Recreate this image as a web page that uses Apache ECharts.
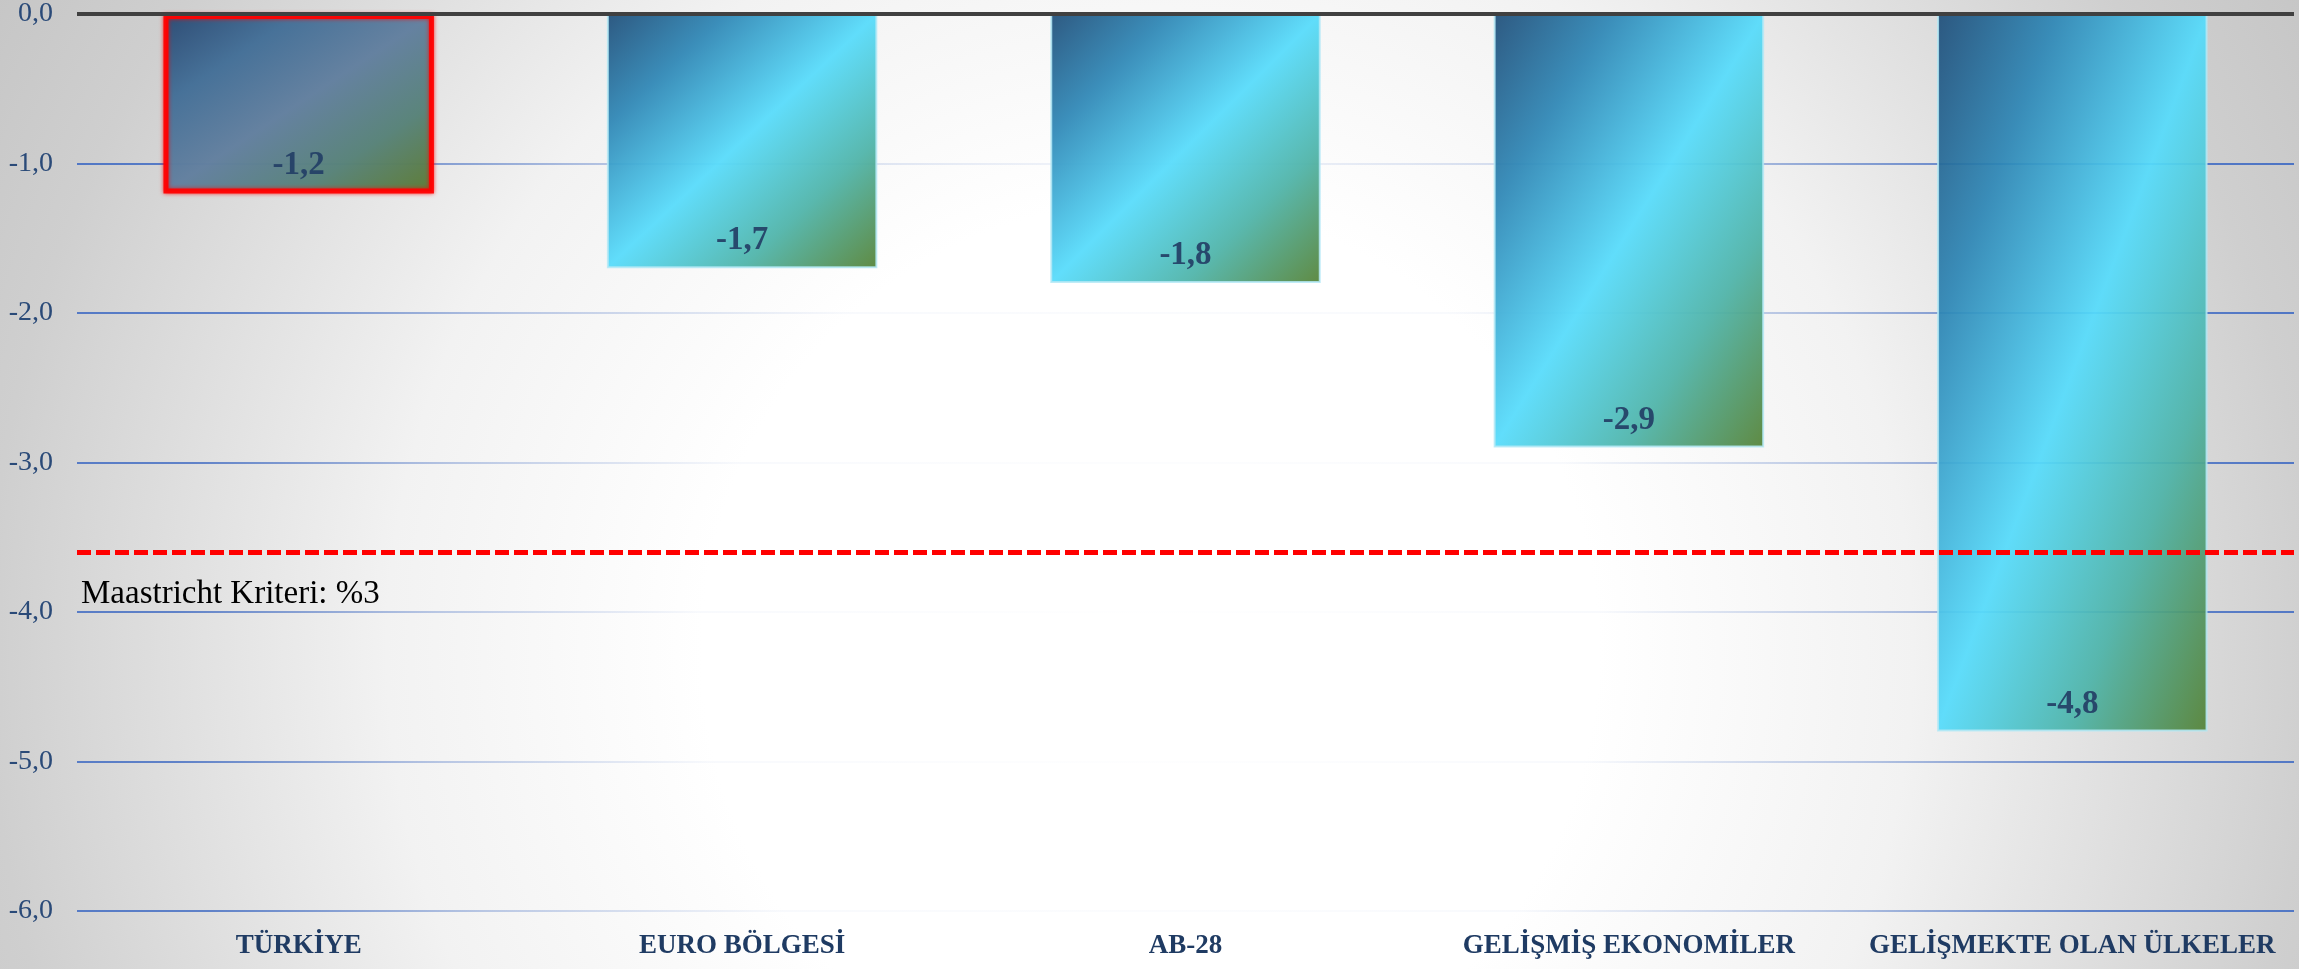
<!DOCTYPE html>
<html>
<head>
<meta charset="utf-8">
<script src="https://cdn.jsdelivr.net/npm/echarts@6/dist/echarts.min.js"></script>
<style>
html,body{margin:0;padding:0;background:#fff;}
#chart{width:2299px;height:969px;}
</style>
</head>
<body>
<div id="chart"></div>
<script>
const categories = ['TÜRKİYE', 'EURO BÖLGESİ', 'AB-28', 'GELİŞMİŞ EKONOMİLER', 'GELİŞMEKTE OLAN ÜLKELER'];
const values = [-1.2, -1.7, -1.8, -2.9, -4.8];
const highlightIndex = 0;
const criterionValue = -3.6;
const criterionLabel = 'Maastricht Kriteri: %3';
const yMin = -6, yMax = 0, yInterval = 1;

const fmt = v => v.toFixed(1).replace('.', ',');
const G = echarts.graphic;

const normalStops = [
  {offset: 0, color: '#1f4e79'},
  {offset: 0.22, color: '#2d86b5'},
  {offset: 0.5, color: '#55dbfb'},
  {offset: 0.75, color: '#4db3a8'},
  {offset: 1, color: '#548235'}
];
const highlightStops = [
  {offset: 0, color: '#1f4e79'},
  {offset: 0.25, color: '#3a76a0'},
  {offset: 0.5, color: '#5a87a8'},
  {offset: 0.75, color: '#4f8a80'},
  {offset: 1, color: '#548235'}
];

// gradient scaled with the shape (isolines run corner to corner)
function shapeGrad(w, h, stops) {
  const d = w * w + h * h;
  return new G.LinearGradient(0, 0, 2 * h * h / d, 2 * w * w / d, stops);
}

function buildData(layouts) {
  return values.map((v, i) => {
    const stops = i === highlightIndex ? highlightStops : normalStops;
    let color;
    if (layouts) {
      const l = layouts[i];
      color = shapeGrad(Math.abs(l.width), Math.abs(l.height), stops);
    } else {
      color = new G.LinearGradient(0, 0, 1, 1, stops);
    }
    if (i === highlightIndex) {
      return {
        value: v,
        itemStyle: {
          color: color,
          borderColor: '#ff0000',
          borderWidth: 5,
          shadowColor: 'rgba(255,0,0,0.8)',
          shadowBlur: 4
        }
      };
    }
    return {value: v, itemStyle: {color: color}};
  });
}

const chart = echarts.init(document.getElementById('chart'), null, {renderer: 'canvas'});
chart.setOption({
  animation: false,
  backgroundColor: new G.RadialGradient(1150, 650, 1400, [
    {offset: 0, color: '#ffffff'},
    {offset: 0.32, color: '#ffffff'},
    {offset: 0.545, color: '#f2f2f2'},
    {offset: 0.83, color: '#cfcfcf'},
    {offset: 1, color: '#c2c2c2'}
  ], true),
  grid: {left: 77, right: 5, top: 14, bottom: 58, containLabel: false},
  xAxis: {
    type: 'category',
    data: categories,
    position: 'bottom',
    axisLine: {show: false, onZero: false},
    axisTick: {show: false},
    axisLabel: {
      interval: 0,
      margin: 22,
      fontFamily: 'Liberation Serif',
      fontWeight: 'bold',
      fontSize: 27,
      color: '#1f3b63'
    }
  },
  yAxis: {
    type: 'value',
    min: yMin, max: yMax, interval: yInterval,
    axisLine: {show: false},
    axisTick: {show: false},
    axisLabel: {
      formatter: fmt,
      margin: 24,
      fontFamily: 'Liberation Serif',
      fontSize: 28,
      color: '#2a4a78'
    },
    splitLine: {
      show: true,
      lineStyle: {
        width: 2,
        color: new G.RadialGradient(1150, 650, 1300, [
          {offset: 0, color: 'rgba(74,114,196,0)'},
          {offset: 0.35, color: 'rgba(74,114,196,0.04)'},
          {offset: 0.55, color: 'rgba(74,114,196,0.35)'},
          {offset: 0.75, color: 'rgba(74,114,196,0.85)'},
          {offset: 1, color: 'rgba(74,114,196,1)'}
        ], true)
      }
    }
  },
  series: [{
    type: 'bar',
    data: buildData(null),
    barCategoryGap: '39%',
    itemStyle: {
      borderColor: 'rgba(180,232,245,0.9)',
      borderWidth: 2,
      opacity: 0.93
    },
    label: {
      show: true,
      position: 'insideBottom',
      distance: 11,
      formatter: p => fmt(p.value),
      fontFamily: 'Liberation Serif',
      fontWeight: 'bold',
      fontSize: 33,
      color: '#233f66'
    },
    markLine: {
      silent: true,
      symbol: ['none', 'none'],
      data: [
        {
          yAxis: 0,
          lineStyle: {color: '#404040', width: 4, type: 'solid'},
          label: {show: false}
        },
        {
          yAxis: criterionValue,
          lineStyle: {color: '#ff0000', width: 5, type: [14, 5]},
          label: {
            show: true,
            position: 'insideStartBottom',
            formatter: criterionLabel,
            distance: [4, 26],
            fontFamily: 'Liberation Serif',
            fontSize: 33,
            color: '#000000'
          }
        }
      ]
    }
  }]
});

// second pass: shape-scaled gradients from the library's own bar layout
const seriesData = chart.getModel().getSeriesByIndex(0).getData();
const layouts = values.map((v, i) => seriesData.getItemLayout(i));
chart.setOption({series: [{data: buildData(layouts)}]});
</script>
</body>
</html>
